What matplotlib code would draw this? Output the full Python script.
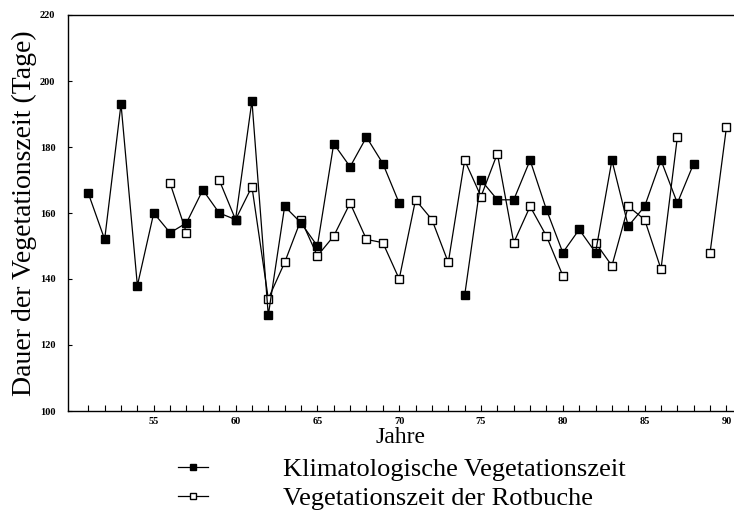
import numpy as np
import matplotlib
matplotlib.use("Agg")
import matplotlib.pyplot as plt
from matplotlib.lines import Line2D

nan = np.nan
years = list(range(51, 91))
klima = [166, 152, 193, 138, 160, 154, 157, 167, 160, 158,
         194, 129, 162, 157, 150, 181, 174, 183, 175, 163,
         nan, nan, nan, 135, 170, 164, 164, 176, 161, 148,
         155, 148, 176, 156, 162, 176, 163, 175, nan, nan]
rotbuche = [nan, nan, nan, nan, nan, 169, 154, nan, 170, 158,
            168, 134, 145, 158, 147, 153, 163, 152, 151, 140,
            164, 158, 145, 176, 165, 178, 151, 162, 153, 141,
            nan, 151, 144, 162, 158, 143, 183, nan, 148, 186]
xtick_labels = [55, 60, 65, 70, 75, 80, 85, 90]
ytick_labels = [100, 120, 140, 160, 180, 200, 220]
series_names = ["Klimatologische Vegetationszeit", "Vegetationszeit der Rotbuche"]

plt.rcParams['font.family'] = ['Liberation Serif', 'DejaVu Serif']

fig = plt.figure(figsize=(7.34, 5.16), dpi=100)
ax = fig.add_axes([68/734, 1 - 411/516, (733 - 68)/734, (411 - 15)/516])

ax.plot(years, rotbuche, color='black', lw=0.9, marker='s', ms=6.0,
        mfc='white', mec='black', mew=1.0, zorder=3)
ax.plot(years, klima, color='black', lw=0.9, marker='s', ms=6.3,
        mfc='black', mec='black', zorder=4)

ax.set_xlim(49.76, 90.4)
ax.set_ylim(100, 220)

ax.set_xticks(years, minor=False)
ax.set_xticklabels([str(y) if y in xtick_labels else '' for y in years])
ax.set_yticks(ytick_labels)
ax.set_yticklabels([str(v) for v in ytick_labels])
ax.tick_params(axis='x', direction='in', length=4, width=0.8, pad=4,
               labelsize=7.5)
ax.tick_params(axis='y', direction='in', length=3, width=0.8, pad=9,
               labelsize=7.5)
for lab in ax.get_xticklabels() + ax.get_yticklabels():
    lab.set_fontweight('bold')

ax.spines['right'].set_visible(False)
for s in ['left', 'bottom', 'top']:
    ax.spines[s].set_linewidth(1.0)

ax.set_xlabel("Jahre", fontsize=17, labelpad=1)
ax.set_ylabel("Dauer der Vegetationszeit (Tage)", fontsize=20, labelpad=2)

handles = [
    Line2D([], [], color='black', lw=0.9, marker='s', ms=5, mfc='black', mec='black'),
    Line2D([], [], color='black', lw=0.9, marker='s', ms=5, mfc='white', mec='black'),
]
fig.legend(handles, series_names, loc='upper left',
           bbox_to_anchor=(178/734, 1 - 458/516), frameon=False,
           fontsize=19, handlelength=1.14, handletextpad=2.84,
           borderpad=0, borderaxespad=0, labelspacing=0.2)

fig.savefig("out.png", dpi=100)
